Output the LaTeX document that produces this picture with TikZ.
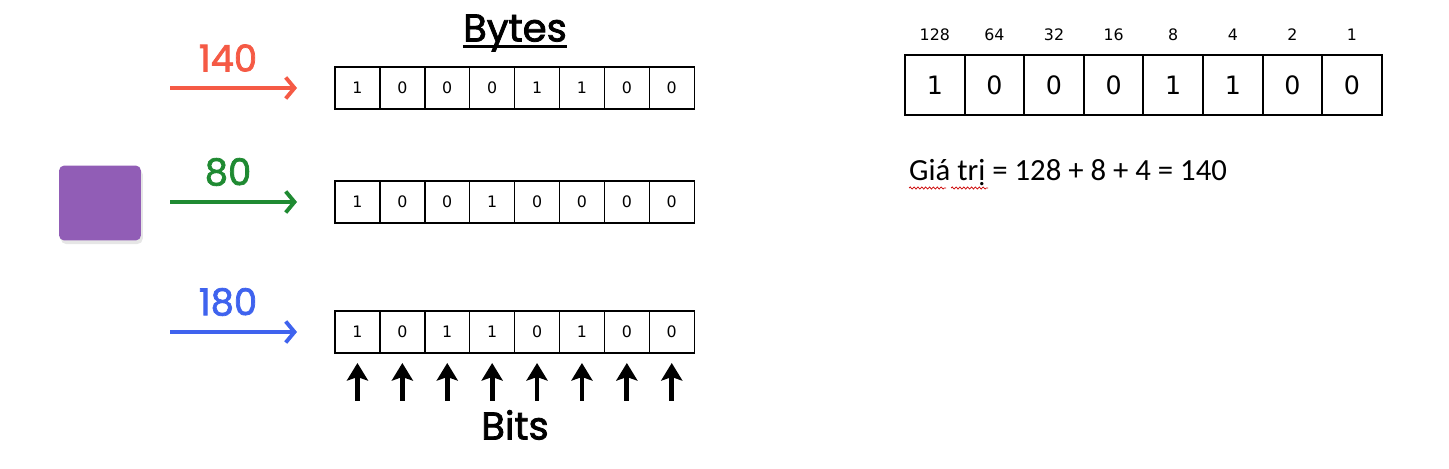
\documentclass[tikz,border=0pt]{standalone}
\usepackage{fontspec}
\usepackage{tikz}
\usetikzlibrary{calc,positioning,arrows.meta,shadows,decorations.pathmorphing}

\newfontfamily\headfont{Poppins}[FakeBold=2]
\newfontfamily\cellfont{DejaVu Sans}
\newfontfamily\notefont{Carlito}

\definecolor{redarr}{HTML}{F55A45}
\definecolor{greenarr}{HTML}{1F8A32}
\definecolor{bluearr}{HTML}{3F63EE}
\definecolor{purplebox}{HTML}{915DB6}

\begin{document}
\begin{tikzpicture}[
            x=0.02cm, y=-0.02cm,
            bitcell/.style={draw, line width=0.8pt, minimum width=0.898cm, minimum height=0.84cm, inner sep=0pt, outer sep=0pt, font=\cellfont\small},
            bigcell/.style={draw, line width=1.2pt, minimum width=1.192cm, minimum height=1.2cm, inner sep=0pt, outer sep=0pt, font=\cellfont\Large},
            weight/.style={font=\cellfont\small},
            number/.style={font=\headfont\fontsize{21}{21}\selectfont},
            flow/.style={line width=2.2pt, -{Straight Barb[length=5pt, width=12pt, line width=2.2pt]}},
            bitarrow/.style={line width=2.7pt, -{Stealth[length=10pt, width=12pt, inset=2pt]}},
            title/.style={font=\headfont\fontsize{22}{22}\selectfont},
            squiggle/.style={red!80!black, line width=0.4pt, decorate, decoration={snake, amplitude=0.6pt, segment length=2.2pt}}
        ]
        \useasboundingbox (0,0) rectangle (1449,469);

        % --- TITRE ---
        \node[title] (bytes) at (515,33) {Bytes};
        \draw[line width=1.6pt] ($(bytes.base west)+(6,5)$) coordinate (ul1) -- ($(bytes.base east)+(-6,5)$) coordinate (ul2);

        % --- CARRE VIOLET ---
        \node[fill=purplebox, rounded corners=3pt, minimum width=1.64cm, minimum height=1.5cm, drop shadow={opacity=0.2, shadow xshift=1pt, shadow yshift=-2pt}] (cube) at (100,203) {};

        % --- LIGNES D'OCTETS ---
        \foreach \r/\y/\val/\col/\bits in {a/88/140/redarr/{1,0,0,0,1,1,0,0},
                                           b/202/80/greenarr/{1,0,0,1,0,0,0,0},
                                           c/332/180/bluearr/{1,0,1,1,0,1,0,0}} {
                \foreach \b [count=\i] in \bits {
                        \node[bitcell] (\r\i) at ({335+44.9*(\i-0.5)},\y) {\b};
                    }
                \coordinate (\r s) at (170,\y);
                \coordinate (\r e) at (297,\y);
                \draw[flow, \col] (\r s) -- (\r e);
                \node[number, text=\col] (\r n) at (228,\y-30) {\val};
            }

        % --- FLECHES DES BITS ---
        \foreach \i in {1,...,8} {
                \coordinate (t\i) at ($(c\i.south)+(0,48)$);
                \draw[bitarrow] (t\i) -- ($(c\i.south)+(0,10)$);
            }
        \node[title] (bits) at (515,425) {Bits};

        % --- OCTET A DROITE ---
        \foreach \b/\w [count=\i] in {1/128,0/64,0/32,0/16,1/8,1/4,0/2,0/1} {
                \node[bigcell] (d\i) at ({905+59.6*(\i-0.5)},85) {\b};
                \node[weight] (w\i) at ($(d\i.north)+(0,-20)$) {\w};
            }

        \node[anchor=west, font=\notefont\fontsize{17.5}{18}\selectfont] (sum) at (903,173) {Giá trị = 128 + 8 + 4 = 140};
        \draw[squiggle] (909,188) -- (946,188);
        \draw[squiggle] (951,188) -- (988,188);

    \end{tikzpicture}
\end{document}
